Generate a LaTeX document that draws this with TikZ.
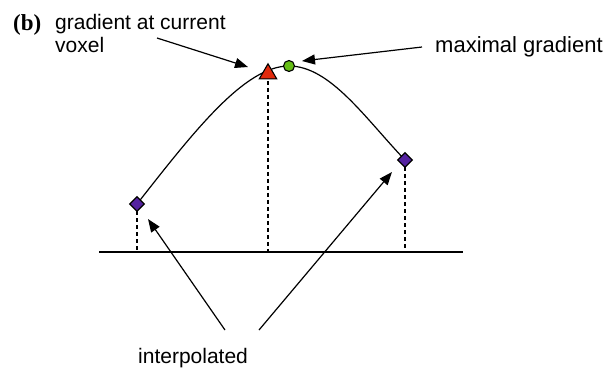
\documentclass[tikz,border=0pt]{standalone}
\usepackage{fontspec}
\setmainfont{Liberation Sans}
\newfontfamily\serifb{Liberation Serif}
\usetikzlibrary{arrows.meta,shapes.geometric}
\definecolor{tri}{RGB}{226,42,12}
\definecolor{grn}{RGB}{102,190,22}
\definecolor{pur}{RGB}{84,34,160}
\tikzset{
  lbl/.style={font=\fontsize{21}{23}\selectfont, inner sep=0pt, align=left},
  arr/.style={line width=1.2pt, -{Triangle[length=13pt,width=10pt]}},
  curve/.style={line width=1.2pt},
  vdash/.style={line width=1.2pt, dash pattern=on 4pt off 3pt},
  dia/.style={diamond, draw=black, line width=1.2pt, fill=pur, minimum width=15pt, minimum height=15pt, inner sep=0pt},
  trinode/.style={regular polygon, regular polygon sides=3, draw=black, line width=1.1pt, fill=tri, minimum size=20pt, inner sep=0pt},
  dot/.style={circle, draw=black, line width=1.1pt, fill=grn, minimum size=11pt, inner sep=0pt}
}
\begin{document}
\begin{tikzpicture}[x=1pt,y=-1pt]
\useasboundingbox (0,0) rectangle (611,368);
% coordinates
\coordinate (L) at (137,204);
\coordinate (T) at (268,73.8);
\coordinate (P) at (289,66);
\coordinate (R) at (405,160);
\coordinate (axl) at (99,252);
\coordinate (axr) at (463,252);
\coordinate (Lb) at (137,252);
\coordinate (Tb) at (268,252);
\coordinate (Rb) at (405,252);
% axis
\draw[line width=1.2pt] (axl) -- (axr);
% dashed lines
\draw[vdash] (L) -- (Lb);
\draw[vdash] (T) -- (Tb);
\draw[vdash] (R) -- (Rb);
% curve
\draw[curve] (L) .. controls (195,130) and (245,66) .. (P)
             .. controls (330,66) and (365,118) .. (R);
% markers
\node[dia] (dl) at (L) {};
\node[dia] (dr) at (R) {};
\node[trinode] (tr) at (T) {};
\node[dot] (gp) at (P) {};
% labels
\node[font=\serifb\bfseries\fontsize{23}{25}\selectfont, inner sep=0pt, anchor=base west] (b) at (13,30) {(b)};
\node[lbl, anchor=base west] (g) at (55,52) {gradient at current\\voxel};
\node[lbl, anchor=base west, font=\fontsize{22}{24}\selectfont] (m) at (435,52) {maximal gradient};
\node[lbl, anchor=base west] (ip) at (138,363) {interpolated};
% arrows
\coordinate (a1s) at (157,38);
\coordinate (a1e) at (248,67);
\coordinate (a2s) at (422,47);
\coordinate (a2e) at (302,61);
\coordinate (a3s) at (225,330);
\coordinate (a3e) at (148,219);
\coordinate (a4s) at (259,330);
\coordinate (a4e) at (392,172);
\draw[arr] (a1s) -- (a1e);
\draw[arr] (a2s) -- (a2e);
\draw[arr] (a3s) -- (a3e);
\draw[arr] (a4s) -- (a4e);
\end{tikzpicture}
\end{document}
